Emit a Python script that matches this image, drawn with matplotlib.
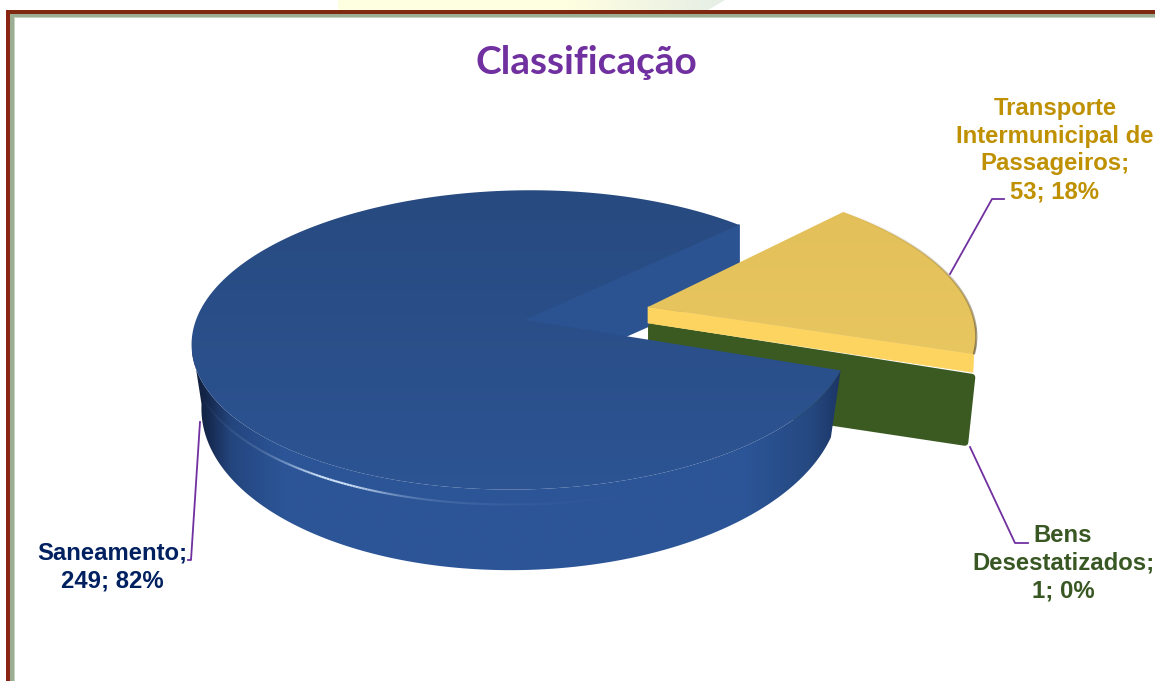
import numpy as np
import matplotlib
matplotlib.use('Agg')
import matplotlib.pyplot as plt
from matplotlib.colors import to_rgb
from matplotlib.collections import LineCollection
from matplotlib.patches import Polygon

# dados do grafico
categorias = ['Saneamento', 'Transporte Intermunicipal de Passageiros', 'Bens Desestatizados']
valores = [249, 53, 1]
rotulos = ['Saneamento;\n249; 82%', 'Transporte\nIntermunicipal de\nPassageiros;\n53; 18%', 'Bens\nDesestatizados;\n1; 0%']
cores_rotulo = ['#002060', '#BF9000', '#385723']

plt.rcParams['font.family'] = ['Liberation Sans', 'DejaVu Sans']

fig = plt.figure(figsize=(11.55, 6.81), dpi=100)
ax = fig.add_axes([0, 0, 1, 1])


def rgb_interp(pos, stops, cores):
    cores = np.array([to_rgb(c) for c in cores])
    return np.column_stack([np.interp(pos, stops, cores[:, i]) for i in range(3)])


# projecao do circulo em perspectiva
k = 0.133


def rim(cx, cy, a, b, th, shear=0):
    t = np.radians(th)
    d = 1 + k * np.sin(t)
    return np.column_stack([cx + (a * np.cos(t) - shear * np.sin(t)) / d, cy - b * np.sin(t) / d])


def fill_grad(poly, xs, ys, stops, cores, z, vertical=True):
    # gradiente recortado pelo poligono
    patch = Polygon(poly, closed=True, fc='none', ec='none', zorder=z)
    ax.add_patch(patch)
    pos = np.linspace(0, 1, 512)
    g = rgb_interp(pos, stops, cores)
    g = g.reshape(512, 1, 3) if vertical else g.reshape(1, 512, 3)
    im = ax.imshow(g, extent=[xs[0], xs[1], ys[1], ys[0]], aspect='auto', zorder=z, interpolation='bilinear')
    im.set_clip_path(patch)


# angulos das fatias a partir dos valores
inicio = 45.0
fatia = np.array(valores) / sum(valores) * 360
th_trans = (inicio - fatia[1], inicio)
th_bens = (th_trans[0] - fatia[2], th_trans[0])
th_san = (inicio, inicio + fatia[0])

# fatia principal
ax0, ay0 = 525, 320        # vertice
cx, cy, A, B, sh = 522, 320, 326, 147, -10
# fatia destacada
ex, ey, A2, sh2 = 648, 307, 322, 20

# fundo / moldura
fundo = [[338, 0], [725, 0], [708, 10], [338, 10]]
fill_grad(fundo, (338, 725), (0, 10), [0, 0.6, 1], ['#FEFEE0', '#FEFEE0', '#E6EEE6'], 0, vertical=False)

ax.fill_between([10, 1155], 14, 18, color='#9BAE93', lw=0, zorder=1)
ax.fill_between([14, 1155], 17, 18, color='#C5D2BE', lw=0, zorder=1)
ax.fill_between([10, 14], 14, 681, color='#9BAE93', lw=0, zorder=1)
ax.fill_between([14, 15], 17, 681, color='#C5D2BE', lw=0, zorder=1)
ax.fill_between([6, 1155], 10, 14, color='#7F2A10', lw=0, zorder=2)
ax.fill_between([6, 10], 10, 681, color='#8A2410', lw=0, zorder=2)

# face de corte de tras da fatia principal
p_rim = rim(cx, cy, A, B, inicio, sh)[0]
esp_corte = 61
ax.add_patch(Polygon([[ax0, ay0], p_rim, p_rim + [0, esp_corte], [ax0, ay0 + esp_corte]],
                     closed=True, fc='#2B5391', ec='#2B5391', lw=1, zorder=3, joinstyle='round'))

# fatia Bens: so a lateral aparece
esp_am, esp_vd = 16, 72
p_bens = rim(ex, ey, A2, B, th_bens[1], sh2)[0]
ax.add_patch(Polygon([[ex + 3.5, ey + esp_am + 4], p_bens + [-2, esp_am + 7],
                      p_bens + [-9, esp_am + esp_vd], [ex + 3.5, ey + esp_am + esp_vd]],
                     closed=True, fc='#3A5A22', ec='#3A5A22', lw=5, joinstyle='round', zorder=4))

# fatia Transporte
p_ini = rim(ex, ey, A2, B, th_trans[0], sh2)[0]
ax.add_patch(Polygon([[ex, ey], p_ini, p_ini + [-1, esp_am + 2], [ex, ey + esp_am]],
                     closed=True, fc='#FDD45F', ec='#FDD45F', lw=0.5, zorder=5))
th_b = np.linspace(th_trans[0], th_trans[1], 160)
rb = rim(ex, ey, A2, B, th_b, sh2)
fill_grad(np.vstack([[ex, ey], rb]), (600, 1000), (195, 365), [0, 1], ['#E2BF58', '#E9C760'], 6)
segs = np.stack([rb[:-1], rb[1:]], axis=1)
alfa = np.interp(th_b[:-1], [th_trans[0], th_trans[0] + 10, 20, inicio], [0.8, 0.65, 0.25, 0.0])
ax.add_collection(LineCollection(segs, colors=[(0.42, 0.36, 0.22, a) for a in alfa], linewidths=1.6, zorder=7))

# lateral da fatia principal
th_w = np.linspace(188, th_san[1], 300)
topo = rim(cx, cy, A, B, th_w, sh)
base = rim(cx, cy + 61, A * 0.97, 164, th_w, sh)
parede = np.vstack([topo, base[::-1]])
fill_grad(parede, (192, 845), (300, 580),
          [0, 0.02, 0.06, 0.14, 0.85, 0.95, 1],
          ['#101D38', '#14264A', '#24467F', '#2C5597', '#2C5597', '#254880', '#1B3361'], 8, vertical=False)

# face superior da fatia principal
th_t = np.linspace(th_san[0], th_san[1], 400)
sec_az = np.vstack([[ax0, ay0], rim(cx, cy, A, B, th_t, sh)])
fill_grad(sec_az, (150, 900), (190, 490), [0, 1], ['#274A80', '#2D5493'], 9)

# brilho na borda
th_h = np.linspace(205, 290, 160)
rh = rim(cx, cy, A, B, th_h, sh) + [0, 15]
segs = np.stack([rh[:-1], rh[1:]], axis=1)
alfa = np.exp(-((th_h[:-1] - 241) / 9) ** 2) * 0.8 + np.exp(-((th_h[:-1] - 241) / 26) ** 2) * 0.2
ax.add_collection(LineCollection(segs, colors=[(0.85, 0.92, 1, min(a, 0.95)) for a in alfa],
                                 linewidths=1.5, zorder=10))

# linhas de chamada
roxo = '#7030A0'
ax.plot([200, 191, 188], [422, 560, 560], color=roxo, lw=1.3, zorder=11)
ax.plot([950, 992, 1004], [274, 199, 199], color=roxo, lw=1.3, zorder=11)
ax.plot([970, 1015, 1028], [447, 543, 543], color=roxo, lw=1.3, zorder=11)

# textos
ax.text(586, 63, 'Classificação', family=['Lato', 'DejaVu Sans'], fontweight='bold', fontsize=28,
        color=roxo, ha='center', va='center', zorder=12)
ax.text(112, 567, rotulos[0], color=cores_rotulo[0], fontsize=17.2, fontweight='bold', ha='center',
        va='center', linespacing=1.27, zorder=12)
ax.text(1055, 150, rotulos[1], color=cores_rotulo[1], fontsize=17.2, fontweight='bold', ha='center',
        va='center', linespacing=1.27, zorder=12)
ax.text(1063, 563, rotulos[2], color=cores_rotulo[2], fontsize=17.2, fontweight='bold', ha='center',
        va='center', linespacing=1.27, zorder=12)

ax.set_xlim(0, 1155)
ax.set_ylim(681, 0)
ax.axis('off')
fig.savefig('out.png', dpi=100)
